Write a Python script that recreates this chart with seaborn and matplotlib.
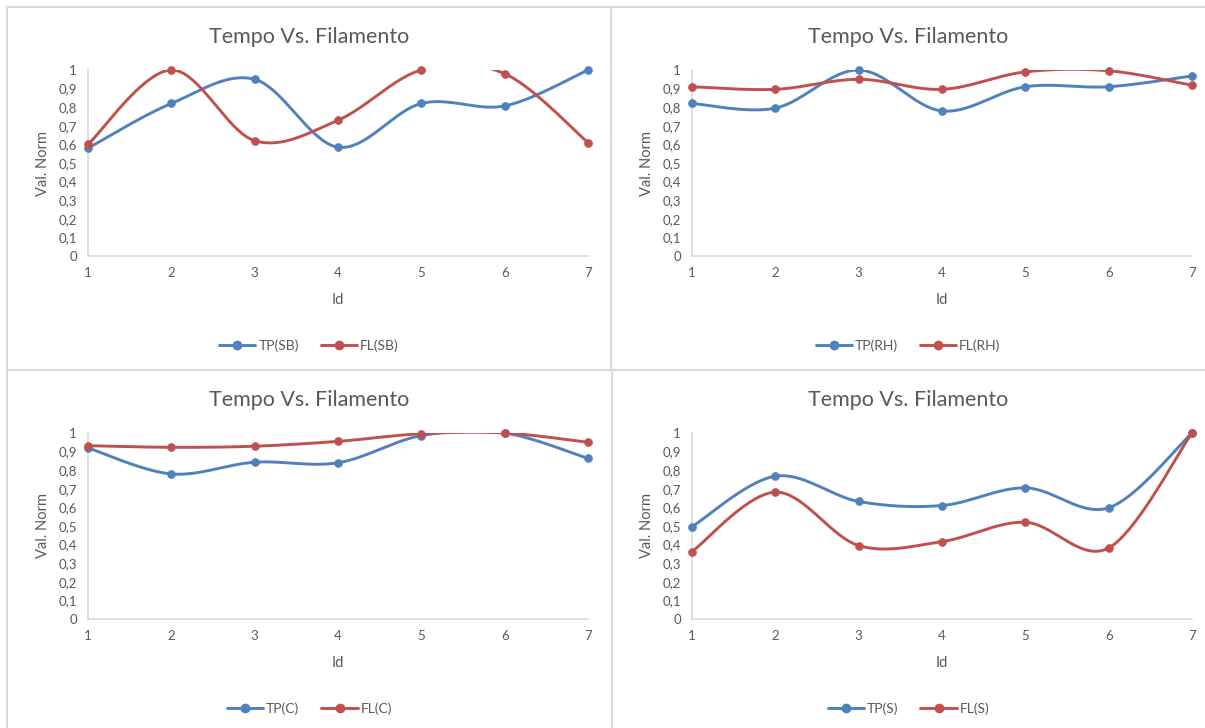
import numpy as np
import pandas as pd
import matplotlib
matplotlib.use("Agg")
import matplotlib.pyplot as plt
from matplotlib.lines import Line2D
from matplotlib.ticker import FuncFormatter
import seaborn as sns

# Data
IDS = [1, 2, 3, 4, 5, 6, 7]

TP_SB = [0.58, 0.82, 0.95, 0.585, 0.82, 0.807, 1.0]
FL_SB = [0.60, 1.0, 0.62, 0.73, 1.0, 0.98, 0.61]

TP_RH = [0.82, 0.795, 1.0, 0.78, 0.91, 0.91, 0.968]
FL_RH = [0.91, 0.896, 0.95, 0.896, 0.99, 0.996, 0.918]

TP_C = [0.92, 0.78, 0.843, 0.84, 0.986, 1.0, 0.863]
FL_C = [0.932, 0.923, 0.929, 0.955, 0.996, 1.0, 0.95]

TP_S = [0.496, 0.768, 0.632, 0.61, 0.705, 0.598, 1.0]
FL_S = [0.362, 0.682, 0.395, 0.416, 0.52, 0.382, 1.0]

TITLE = "Tempo Vs. Filamento"
Y_TICKS = [0, 0.1, 0.2, 0.3, 0.4, 0.5, 0.6, 0.7, 0.8, 0.9, 1.0]

BLUE = "#4F81BD"
RED = "#C0504D"
TEXT = "#595959"
GRID = "#D9D9D9"

W, H = 1205, 728


def fx(px):
    return px / W


def fy(py):
    return 1 - py / H


def excel_smooth(x, y, steps=40):
    '''
    Bezier smoothing similar to the one Excel uses for "smoothed line".

    :param x: x values
    :param y: y values
    :return: smoothed x and y arrays
    '''
    pts = np.column_stack([x, y]).astype(float)
    ext = np.vstack([pts[0], pts, pts[-1]])
    t = np.linspace(0, 1, steps)[:, None]
    out = []
    for i in range(len(pts) - 1):
        p0, p1, p2, p3 = ext[i], ext[i + 1], ext[i + 2], ext[i + 3]
        c1 = p1 + (p2 - p0) / 6
        c2 = p2 - (p3 - p1) / 6
        seg = ((1 - t) ** 3 * p1 + 3 * (1 - t) ** 2 * t * c1
               + 3 * (1 - t) * t ** 2 * c2 + t ** 3 * p2)
        out.append(seg if i == 0 else seg[1:])
    out = np.vstack(out)
    return out[:, 0], out[:, 1]


sns.set_theme(style="white")
plt.rcParams["font.family"] = ["Lato", "DejaVu Sans"]

fig = plt.figure(figsize=(W / 100, H / 100), dpi=100)

# panel borders
for (x0, y0, x1, y1) in [(7, 7, 1205, 7), (7, 7, 7, 728), (611, 7, 611, 369),
                         (612, 371, 612, 728), (7, 370, 1205, 370)]:
    fig.add_artist(Line2D([fx(x0), fx(x1)], [fy(y0), fy(y1)], color=GRID,
                          lw=1.5, transform=fig.transFigure))

panels = [
    # (tp, fl, suffix, axes left px, axes top px, panel left, panel right)
    (TP_SB, FL_SB, "SB", 88, 70, 7, 611),
    (TP_RH, FL_RH, "RH", 692, 70, 611, 1205),
    (TP_C, FL_C, "C", 88, 433, 7, 612),
    (TP_S, FL_S, "S", 692, 433, 612, 1205),
]

for tp, fl, name, left, top, pl, pr in panels:
    ax_w, ax_h = 500, 186
    ax = fig.add_axes([fx(left), fy(top + ax_h), ax_w / W, ax_h / H])
    ax.set_facecolor("none")

    for vals, col in [(tp, BLUE), (fl, RED)]:
        sx, sy = excel_smooth(IDS, vals)
        df = pd.DataFrame({"x": sx, "y": sy})
        sns.lineplot(data=df, x="x", y="y", sort=False, color=col, lw=2.1,
                     ax=ax, estimator=None)
        pts = pd.DataFrame({"Id": IDS, "v": vals})
        sns.scatterplot(data=pts, x="Id", y="v", color=col, s=32,
                        edgecolor=col, linewidth=0.5, ax=ax, clip_on=False,
                        zorder=5)

    ax.set_xlim(1, 7)
    ax.set_ylim(0, 1)
    ax.set_xticks(IDS)
    ax.set_yticks(Y_TICKS)
    ax.yaxis.set_major_formatter(FuncFormatter(
        lambda v, p: ("%g" % round(v, 1)).replace(".", ",")))
    ax.tick_params(length=0, labelsize=9.5, colors=TEXT)
    ax.tick_params(axis="y", pad=8)
    ax.tick_params(axis="x", pad=8)
    for s in ["top", "right"]:
        ax.spines[s].set_visible(False)
    for s in ["left", "bottom"]:
        ax.spines[s].set_color(GRID)
        ax.spines[s].set_linewidth(1.2)
    ax.set_xlabel("Id", color=TEXT, fontsize=10.5, labelpad=10)
    ax.set_ylabel("Val. Norm", color=TEXT, fontsize=10.5, labelpad=6)

    cx = fx((pl + pr) / 2)
    fig.text(cx, fy(top - 33), TITLE, ha="center", va="center",
             fontsize=15.5, color=TEXT)

    handles = [
        Line2D([], [], color=BLUE, lw=2.1, marker="o", markersize=6),
        Line2D([], [], color=RED, lw=2.1, marker="o", markersize=6),
    ]
    fig.legend(handles, ["TP(%s)" % name, "FL(%s)" % name], loc="center",
               bbox_to_anchor=(cx, fy(top + 276)), ncol=2, frameon=False,
               fontsize=10, labelcolor=TEXT, handlelength=2.6,
               handletextpad=0.2, columnspacing=1.6)

fig.savefig("out.png", dpi=100)
